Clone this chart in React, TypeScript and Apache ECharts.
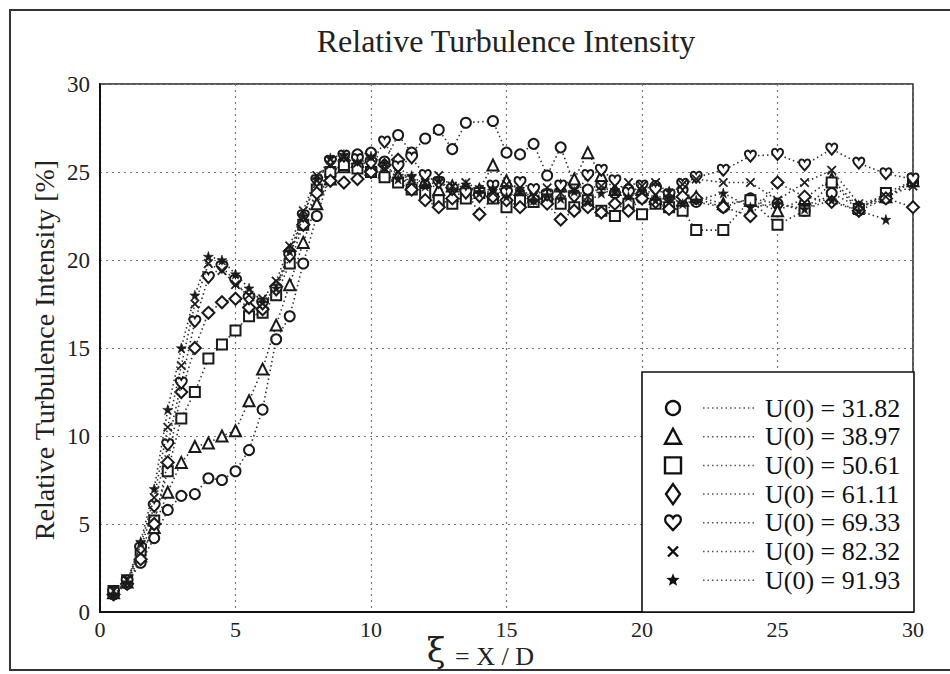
import React, { useEffect, useRef } from "react";
import * as echarts from "echarts";

// x positions (ξ = X/D)
const xs = [0.5, 1, 1.5, 2, 2.5, 3, 3.5, 4, 4.5, 5, 5.5, 6, 6.5, 7, 7.5, 8, 8.5, 9, 9.5, 10, 10.5, 11, 11.5, 12, 12.5, 13, 13.5, 14, 14.5, 15, 15.5, 16, 16.5, 17, 17.5, 18, 18.5, 19, 19.5, 20, 20.5, 21, 21.5, 22, 23, 24, 25, 26, 27, 28, 29, 30];

const seriesNames = ["U(0) = 31.82", "U(0) = 38.97", "U(0) = 50.61", "U(0) = 61.11", "U(0) = 69.33", "U(0) = 82.32", "U(0) = 91.93"];

const circleVals = [1.0, 1.6, 2.8, 4.2, 5.8, 6.6, 6.7, 7.6, 7.5, 8.0, 9.2, 11.5, 15.5, 16.8, 19.8, 22.5, 24.8, 25.6, 26.0, 26.1, 25.6, 27.1, 26.1, 26.9, 27.4, 26.3, 27.8, null, 27.9, 26.1, 26.0, 26.6, 24.8, 26.4, 24.3, 24.0, 24.3, 23.8, 24.0, 23.5, 24.2, 23.6, 24.0, 23.3, 23.0, 23.5, 23.2, 22.8, 23.8, 23.0, 23.5, 24.5];
const triangleVals = [1.1, 1.7, 3.2, 4.8, 6.8, 8.5, 9.4, 9.6, 10.0, 10.3, 12.0, 13.8, 16.3, 18.6, 21.0, 23.2, 24.6, 25.3, 25.6, 25.4, 25.0, 24.8, 24.3, 24.5, 24.0, 24.2, 23.8, 24.0, 25.4, 24.5, 24.0, 23.6, 23.8, 24.2, 24.6, 26.1, 24.8, 24.0, 23.6, 24.0, 23.5, 23.8, 23.4, 23.6, 23.2, 23.4, 22.8, 23.5, 24.6, 23.0, 23.6, 24.5];
const squareVals = [1.2, 1.8, 3.5, 5.2, 8.0, 11.0, 12.5, 14.4, 15.2, 16.0, 16.8, 17.0, 18.0, 19.8, 22.0, 24.0, 25.0, 25.4, 25.2, 25.0, 24.7, 24.4, 24.0, 23.8, 23.4, 23.2, 23.5, 23.8, 23.5, 23.0, 23.4, 23.3, 23.6, 23.2, 23.0, 23.4, 22.8, 22.5, 23.2, 22.6, 23.2, 23.0, 22.8, 21.7, 21.7, 23.4, 22.0, 22.8, 24.4, 22.9, 23.8, 24.5];
const diamondVals = [1.0, 1.6, 3.0, 5.0, 8.5, 12.5, 15.0, 17.0, 17.6, 17.8, 17.3, 17.2, 18.5, 20.5, 22.0, 23.8, 24.5, 24.4, 24.6, 25.0, 25.4, 25.7, 24.0, 23.4, 23.0, 23.5, 24.0, 22.6, 23.6, 23.4, 23.0, 23.5, 23.2, 22.3, 22.8, 23.0, 22.7, 23.2, 22.8, 23.5, 23.3, 22.9, 23.6, 23.5, 23.0, 22.5, 24.4, 23.6, 23.3, 22.8, 23.5, 23.0];
const heartVals = [1.1, 1.7, 3.6, 6.0, 9.5, 13.0, 16.5, 19.0, 19.6, 18.8, 17.8, 17.5, 18.3, 20.2, 22.5, 24.5, 25.6, 25.9, 25.7, 25.5, 26.7, 25.3, 25.8, 24.8, 24.4, 24.0, 23.8, 23.6, 24.2, 23.8, 24.4, 24.0, 23.7, 24.2, 23.6, 24.8, 25.1, 24.5, 23.8, 24.2, 24.0, 23.7, 24.3, 24.7, 25.1, 25.9, 26.0, 25.4, 26.3, 25.5, 24.9, 24.6];
const crossVals = [1.2, 1.8, 3.8, 6.5, 10.5, 14.0, 17.5, 19.8, 19.4, 18.6, 18.0, 17.8, 18.8, 20.8, 22.8, 24.8, 25.4, 25.8, 25.5, 25.8, 25.2, 25.0, 24.6, 24.4, 24.8, 24.2, 24.4, 24.0, 23.8, 24.3, 23.9, 23.6, 24.1, 23.8, 24.0, 23.6, 24.2, 23.8, 24.4, 24.2, 24.4, 23.8, 24.3, 24.6, 24.4, 24.4, 23.4, 24.4, 25.1, 23.2, 23.6, 24.2];
const starVals = [1.0, 1.7, 4.0, 7.0, 11.5, 15.0, 18.0, 20.2, 20.0, 19.2, 18.4, 17.6, 18.4, 20.5, 22.5, 24.6, 25.8, 26.0, 25.6, 25.9, 25.5, 24.6, 24.8, 24.2, 24.5, 24.0, 24.3, 23.8, 24.1, 23.6, 23.9, 23.4, 23.7, 23.5, 23.9, 23.3, 23.8, 24.0, 23.6, 23.9, 23.4, 23.6, 23.2, 23.4, 23.8, 23.0, 23.2, 22.9, 23.4, 22.8, 22.3, null];

const xTicks = [0, 5, 10, 15, 20, 25, 30];

const HEART_D = "M12 21 L3.5 12.5 C0.5 9.5 0.8 4.5 4.5 3 C7.5 2 10.5 3.5 12 6 C13.5 3.5 16.5 2 19.5 3 C23.2 4.5 23.5 9.5 20.5 12.5 Z";
const CROSS_D = "M1 0 L5 4 L9 0 L10 1 L6 5 L10 9 L9 10 L5 6 L1 10 L0 9 L4 5 L0 1 Z";
const STAR_D = "M5 0 L6.2 3.6 L10 3.6 L6.9 5.9 L8.1 9.5 L5 7.3 L1.9 9.5 L3.1 5.9 L0 3.6 L3.8 3.6 Z";

const SERIF = '"Liberation Serif", "Times New Roman", serif';

export default function App() {
  const ref = useRef<HTMLDivElement>(null);

  useEffect(() => {
    if (!ref.current) return;
    echarts.graphic.registerShape("legendHeart", echarts.graphic.extendPath(HEART_D, {}));
    const chart = echarts.init(ref.current, null, { renderer: "svg" });

    const defs = [
      { vals: circleVals, symbol: "circle", size: 10, filled: false },
      { vals: triangleVals, symbol: "triangle", size: 11, filled: false },
      { vals: squareVals, symbol: "rect", size: 10, filled: false },
      { vals: diamondVals, symbol: "diamond", size: 12, filled: false },
      { vals: heartVals, symbol: "path://" + HEART_D, size: 11, filled: false },
      { vals: crossVals, symbol: "path://" + CROSS_D, size: 9, filled: true },
      { vals: starVals, symbol: "path://" + STAR_D, size: 10, filled: true },
    ];

    const series = defs.map((d, k) => ({
      type: "line",
      name: seriesNames[k],
      data: xs.map((x, i) => [x, d.vals[i]]).filter((p) => p[1] !== null),
      symbol: d.symbol,
      symbolSize: d.size,
      showSymbol: true,
      showAllSymbol: true,
      lineStyle: { color: "#333", width: 1.6, type: [1.5, 3] },
      itemStyle: {
        color: d.filled ? "#1a1a1a" : "#fff",
        borderColor: "#1a1a1a",
        borderWidth: d.filled ? 0.6 : 2,
      },
      emphasis: { disabled: true },
      z: 3 + k,
    }));

    // legend graphic
    const lx = 673;
    const legendEls: any[] = [
      {
        type: "rect",
        shape: { x: 642, y: 372, width: 272, height: 240 },
        style: { fill: "#fff", stroke: "#111", lineWidth: 1.6 },
        z: 100,
      },
    ];
    const starPts = (cx: number, cy: number, R: number, r: number) => {
      const pts: number[][] = [];
      for (let i = 0; i < 10; i++) {
        const a = -Math.PI / 2 + (i * Math.PI) / 5;
        const rr = i % 2 === 0 ? R : r;
        pts.push([cx + rr * Math.cos(a), cy + rr * Math.sin(a)]);
      }
      return pts;
    };
    seriesNames.forEach((name, i) => {
      const cy = 408 + i * 28.7;
      const sym = { fill: "#fff", stroke: "#111", lineWidth: 2.4 };
      if (i === 0) legendEls.push({ type: "circle", shape: { cx: lx, cy, r: 7 }, style: sym, z: 101 });
      if (i === 1) legendEls.push({ type: "polygon", shape: { points: [[lx, cy - 8], [lx + 8, cy + 7], [lx - 8, cy + 7]] }, style: sym, z: 101 });
      if (i === 2) legendEls.push({ type: "rect", shape: { x: lx - 8, y: cy - 8, width: 16, height: 16 }, style: sym, z: 101 });
      if (i === 3) legendEls.push({ type: "polygon", shape: { points: [[lx, cy - 10], [lx + 7, cy], [lx, cy + 10], [lx - 7, cy]] }, style: sym, z: 101 });
      if (i === 4) legendEls.push({ type: "legendHeart", x: lx - 9, y: cy - 9.5, scaleX: 0.75, scaleY: 0.8, style: { fill: "#fff", stroke: "#111", lineWidth: 3 }, z: 101 });
      if (i === 5) {
        legendEls.push({ type: "line", shape: { x1: lx - 5, y1: cy - 5, x2: lx + 5, y2: cy + 5 }, style: { stroke: "#111", lineWidth: 2.4 }, z: 101 });
        legendEls.push({ type: "line", shape: { x1: lx - 5, y1: cy + 5, x2: lx + 5, y2: cy - 5 }, style: { stroke: "#111", lineWidth: 2.4 }, z: 101 });
      }
      if (i === 6) legendEls.push({ type: "polygon", shape: { points: starPts(lx, cy, 7, 3) }, style: { fill: "#111" }, z: 101 });
      legendEls.push({
        type: "line",
        shape: { x1: 703, y1: cy, x2: 757, y2: cy },
        style: { stroke: "#555", lineWidth: 1.5, lineDash: [1.5, 3] },
        z: 101,
      });
      legendEls.push({
        type: "text",
        x: 765,
        y: cy,
        style: { text: name, font: `26px ${SERIF}`, fill: "#111", textAlign: "left", textVerticalAlign: "middle" },
        z: 101,
      });
    });

    const option: any = {
      animation: false,
      backgroundColor: "#fff",
      grid: {
        left: 100,
        right: 37,
        top: 84,
        bottom: 62,
        show: true,
        borderColor: "#222",
        borderWidth: 1.5,
        backgroundColor: "transparent",
      },
      xAxis: {
        type: "value",
        min: xTicks[0],
        max: xTicks[xTicks.length - 1],
        interval: 5,
        axisLine: { show: true, onZero: false, lineStyle: { color: "#111", width: 2 } },
        axisTick: { show: false },
        axisLabel: { fontFamily: SERIF, fontSize: 22, color: "#222", margin: 6 },
        splitLine: { show: true, lineStyle: { color: "#777", width: 1.2, type: [2, 4] } },
      },
      yAxis: {
        type: "value",
        min: 0,
        max: 30,
        interval: 5,
        axisLine: { show: true, onZero: false, lineStyle: { color: "#111", width: 2 } },
        axisTick: { show: false },
        axisLabel: { fontFamily: SERIF, fontSize: 23, color: "#222", margin: 10 },
        splitLine: { show: true, lineStyle: { color: "#777", width: 1.2, type: [2, 4] } },
      },
      series,
      graphic: [
        {
          type: "rect",
          shape: { x: 10, y: 10, width: 960, height: 660 },
          style: { fill: "none", stroke: "#333", lineWidth: 2 },
          z: 0,
          silent: true,
        },
        {
          type: "text",
          x: 506,
          y: 41,
          style: { text: "Relative Turbulence Intensity", font: `32px ${SERIF}`, fill: "#222", textAlign: "center", textVerticalAlign: "middle" },
        },
        {
          type: "text",
          x: 44,
          y: 350,
          rotation: Math.PI / 2,
          style: { text: "Relative Turbulence Intensity [%]", font: `28px ${SERIF}`, fill: "#222", textAlign: "center", textVerticalAlign: "middle" },
        },
        {
          type: "text",
          x: 436,
          y: 650,
          style: { text: "ξ", font: `34px "DejaVu Serif", ${SERIF}`, fill: "#222", textAlign: "center", textVerticalAlign: "middle" },
        },
        {
          type: "text",
          x: 455,
          y: 656,
          style: { text: "= X / D", font: `26px ${SERIF}`, fill: "#222", textAlign: "left", textVerticalAlign: "middle" },
        },
        ...legendEls,
      ],
    };

    chart.setOption(option);
    return () => chart.dispose();
  }, []);

  return <div ref={ref} style={{ position: "fixed", left: 0, top: 0, width: 950, height: 674, background: "#fff" }} />;
}
